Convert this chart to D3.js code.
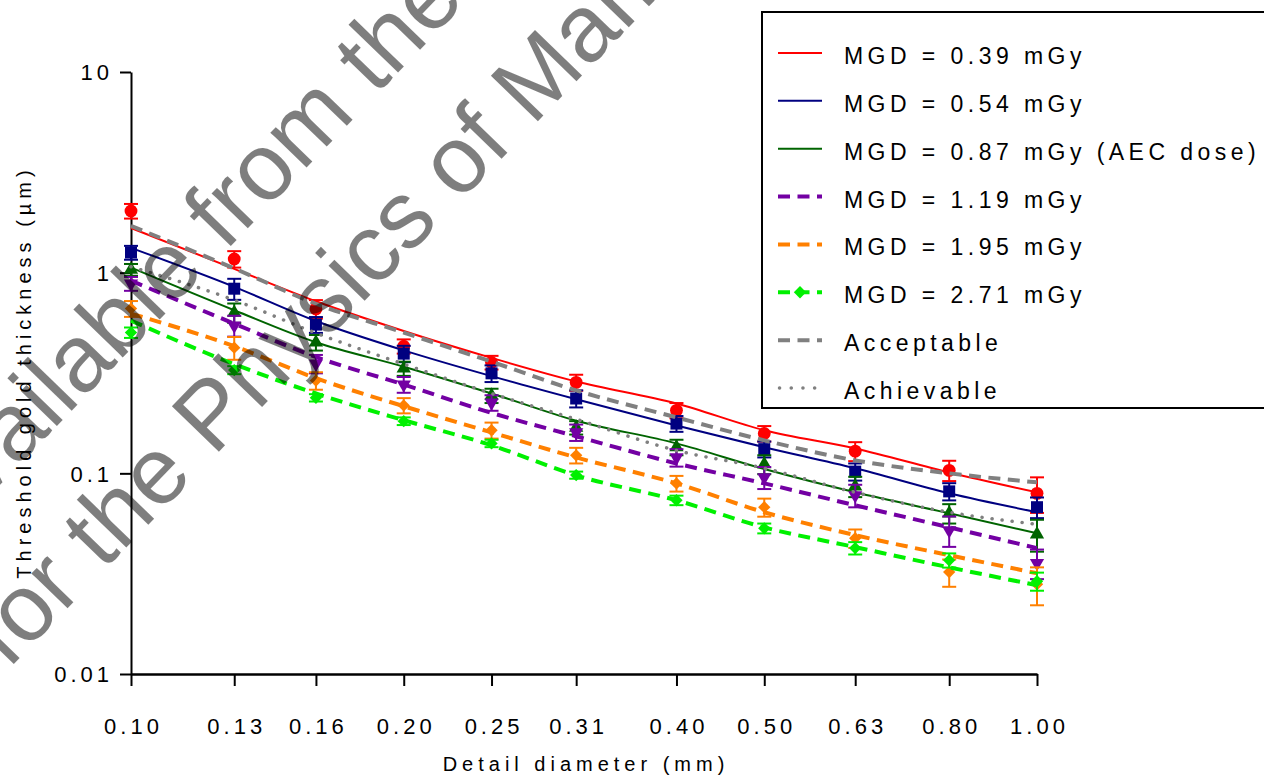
<!DOCTYPE html>
<html><head><meta charset="utf-8">
<script src="https://cdn.jsdelivr.net/npm/d3@7"></script>
<style>
body{margin:0;background:#fff;}
svg{display:block;font-family:"Liberation Sans",Arial,Helvetica,sans-serif;}
</style></head><body>
<svg id="chart" width="1264" height="776"></svg>
<script>
// ---------- DATA ----------
const diameters   = [0.10, 0.13, 0.16, 0.20, 0.25, 0.31, 0.40, 0.50, 0.63, 0.80, 1.00];
const xTickLabels = ["0.10","0.13","0.16","0.20","0.25","0.31","0.40","0.50","0.63","0.80","1.00"];
const yTickValues = [0.01, 0.1, 1, 10];
const yTickLabels = ["0.01","0.1","1","10"];
const xTitle = "Detail diameter (mm)";
const yTitle = "Threshold gold thickness (\u00b5m)";

const seriesNames = ["MGD = 0.39 mGy","MGD = 0.54 mGy","MGD = 0.87 mGy (AEC dose)",
                     "MGD = 1.19 mGy","MGD = 1.95 mGy","MGD = 2.71 mGy"];
const refNames = ["Acceptable","Achievable"];

// measured points (µm)
const pts039 = [2.03, 1.17, 0.66, 0.43, 0.357, 0.284, 0.206, 0.158, 0.129, 0.1035, 0.0795];
const pts054 = [1.26, 0.832, 0.551, 0.395, 0.315, 0.236, 0.177, 0.132, 0.102, 0.0813, 0.0678];
const pts087 = [1.035, 0.632, 0.449, 0.333, 0.244, 0.169, 0.135, 0.111, 0.0861, 0.0632, 0.0497];
const pts119 = [0.882, 0.545, 0.352, 0.277, 0.225, 0.160, 0.120, 0.0955, 0.0777, 0.0520, 0.0357];
const pts195 = [0.662, 0.423, 0.290, 0.218, 0.164, 0.123, 0.0891, 0.0678, 0.0475, 0.0322, 0.028];
const pts271 = [0.503, 0.327, 0.238, 0.182, 0.141, 0.0980, 0.0734, 0.0532, 0.0424, 0.0369, 0.0290];

// error bars (± µm)
const err039 = [0.17, 0.11, 0.07, 0.035, 0.028, 0.026, 0.018, 0.014, 0.014, 0.012, 0.016];
const err054 = [0.10, 0.10, 0.05, 0.037, 0.030, 0.023, 0.016, 0.012, 0.010, 0.008, 0.008];
const err087 = [0.07, 0.07, 0.04, 0.027, 0.020, 0.013, 0.012, 0.012, 0.010, 0.007, 0.009];
const err119 = [0.07, 0.065, 0.037, 0.025, 0.020, 0.015, 0.012, 0.012, 0.010, 0.009, 0.006];
const err195 = [0.06, 0.055, 0.029, 0.019, 0.015, 0.011, 0.008, 0.007, 0.005, 0.005, 0.006];
const err271 = [0.03, 0.015, 0.010, 0.008, 0.006, 0.004, 0.004, 0.003, 0.003, 0.003, 0.003];

// fitted curves (µm at each diameter)
const fit039 = [1.67, 1.045, 0.72, 0.512, 0.376, 0.287, 0.223, 0.164, 0.133, 0.101, 0.0804];
const fit054 = [1.33, 0.85, 0.574, 0.41, 0.305, 0.234, 0.173, 0.135, 0.106, 0.0795, 0.064];
const fit087 = [1.06, 0.65, 0.45, 0.34, 0.25, 0.183, 0.141, 0.105, 0.0804, 0.0632, 0.0503];
const fit119 = [0.912, 0.557, 0.38, 0.277, 0.20, 0.153, 0.112, 0.0891, 0.0693, 0.0538, 0.0424];
const fit195 = [0.625, 0.43, 0.298, 0.216, 0.16, 0.12, 0.0891, 0.064, 0.0492, 0.0391, 0.0318];
const fit271 = [0.577, 0.35, 0.25, 0.184, 0.138, 0.0977, 0.0734, 0.0538, 0.0429, 0.034, 0.0277];

// reference levels
const acceptable = [1.71, 1.05, 0.70, 0.503, 0.36, 0.259, 0.190, 0.146, 0.116, 0.100, 0.0902];
const achievable = [1.07, 0.73, 0.50, 0.35, 0.25, 0.186, 0.130, 0.106, 0.0804, 0.064, 0.0557];

const watermarkLines = ["Available from the National Coordinating Centre",
                        "for the Physics of Mammography"];

// ---------- STYLE ----------
const colors = ["#ff0000","#000080","#006400","#7300a3","#ff8000","#00f000"];
const dashed = [false,false,false,true,true,true];
const symbols = ["circle","square","triangle","triangleDown","diamond","diamond"];
const series = [
  {pts:pts039, err:err039, fit:fit039},
  {pts:pts054, err:err054, fit:fit054},
  {pts:pts087, err:err087, fit:fit087},
  {pts:pts119, err:err119, fit:fit119},
  {pts:pts195, err:err195, fit:fit195},
  {pts:pts271, err:err271, fit:fit271}
].map((s,i)=>Object.assign(s,{name:seriesNames[i],color:colors[i],dashed:dashed[i],sym:symbols[i]}));

const svg = d3.select("#chart");
const x = d3.scaleLog().domain([0.1, 1]).range([131, 1037]);
const y = d3.scaleLog().domain([0.01, 10]).range([674, 72]);

function symPath(kind){
  if(kind==="circle") return d3.symbol(d3.symbolCircle, 130)();
  if(kind==="square") return d3.symbol(d3.symbolSquare, 144)();
  if(kind==="triangle"||kind==="triangleDown") return d3.symbol(d3.symbolTriangle, 88)();
  return d3.symbol(d3.symbolSquare, 76)();
}
function symTransform(kind){
  if(kind==="triangleDown") return " rotate(180)";
  if(kind==="diamond") return " rotate(45)";
  return "";
}

// ---------- AXES ----------
const yAxis = d3.axisLeft(y).tickValues(yTickValues)
  .tickFormat((d,i)=>yTickLabels[i]).tickSize(11).tickSizeOuter(0).tickPadding(0);
const gy = svg.append("g").attr("transform","translate(131,0)").call(yAxis);
gy.select(".domain").attr("stroke","#000").attr("stroke-width",2);
gy.selectAll(".tick line").attr("stroke","#000").attr("stroke-width",2);
gy.selectAll(".tick text").attr("x",-18).attr("dy","0.36em")
  .style("font-size","22px").style("letter-spacing","4px").attr("fill","#000")
  .style("font-family","'Liberation Sans',Arial,sans-serif");

const xAxis = d3.axisBottom(x).tickValues(diameters)
  .tickFormat((d,i)=>xTickLabels[i]).tickSize(12).tickSizeOuter(0);
const gx = svg.append("g").attr("transform","translate(0,674)").call(xAxis);
gx.select(".domain").attr("stroke","#000").attr("stroke-width",2.5);
gx.selectAll(".tick line").attr("stroke","#000").attr("stroke-width",2);
gx.selectAll(".tick text").attr("y",44).attr("x",2).attr("dy","0.71em")
  .style("font-size","22px").style("letter-spacing","4px").attr("fill","#000")
  .style("font-family","'Liberation Sans',Arial,sans-serif");

svg.append("text").attr("x",586).attr("y",771).attr("text-anchor","middle")
  .style("font-size","20px").style("letter-spacing","5px").text(xTitle);
svg.append("text").attr("transform","translate(31,372) rotate(-90)").attr("text-anchor","middle")
  .style("font-size","20px").style("letter-spacing","5px").text(yTitle);

// ---------- SERIES ----------
const line = d3.line().x((d,i)=>x(diameters[i])).y(d=>y(d)).curve(d3.curveMonotoneX);
const plot = svg.append("g");
series.forEach(s=>{
  const g = plot.append("g");
  g.append("path").attr("d",line(s.fit)).attr("fill","none").attr("stroke",s.color)
    .attr("stroke-width",s.dashed?4:2).attr("stroke-dasharray",s.dashed?"12,7.5":null);
  const eb = g.selectAll(".eb").data(s.pts).join("g")
    .attr("transform",(d,i)=>`translate(${x(diameters[i])},0)`);
  const lo = (d,i)=>y(Math.max(d-s.err[i],0.0101));
  const hi = (d,i)=>y(d+s.err[i]);
  eb.append("line").attr("x1",0).attr("x2",0).attr("y1",hi).attr("y2",lo)
    .attr("stroke",s.color).attr("stroke-width",2);
  eb.append("line").attr("x1",-7).attr("x2",7).attr("y1",hi).attr("y2",hi)
    .attr("stroke",s.color).attr("stroke-width",2);
  eb.append("line").attr("x1",-7).attr("x2",7).attr("y1",lo).attr("y2",lo)
    .attr("stroke",s.color).attr("stroke-width",2);
  g.selectAll(".mk").data(s.pts).join("path")
    .attr("d",symPath(s.sym)).attr("fill",s.color)
    .attr("transform",(d,i)=>`translate(${x(diameters[i])},${y(d)})`+symTransform(s.sym));
});
plot.append("path").attr("d",line(acceptable)).attr("fill","none").attr("stroke","#808080")
  .attr("stroke-width",4).attr("stroke-dasharray","12,7.5");
plot.append("path").attr("d",line(achievable)).attr("fill","none").attr("stroke","#808080")
  .attr("stroke-width",3.5).attr("stroke-linecap","round").attr("stroke-dasharray","0.1,10");

// ---------- LEGEND ----------
const lg = svg.append("g");
lg.append("rect").attr("x",762).attr("y",12).attr("width",560).attr("height",396)
  .attr("fill","#fff").attr("stroke","#000").attr("stroke-width",2);
const legendItems = series.map(s=>({name:s.name,color:s.color,dashed:s.dashed,sym:s.sym,w:s.dashed?4:2}))
  .concat([{name:refNames[0],color:"#808080",dashed:true,w:4},
           {name:refNames[1],color:"#808080",dotted:true,w:3.5}]);
const rowY = d3.scaleLinear().domain([0,7]).range([53,388]);
legendItems.forEach((it,i)=>{
  const yy = rowY(i);
  const l = lg.append("line").attr("x1",778).attr("x2",822).attr("y1",yy).attr("y2",yy)
    .attr("stroke",it.color).attr("stroke-width",it.w);
  if(it.dashed) l.attr("stroke-dasharray","12,7.5");
  if(it.dotted) l.attr("stroke-linecap","round").attr("stroke-dasharray","0.1,11.6").attr("x1",779.5);
  if(i===5) lg.append("path").attr("d",symPath("diamond")).attr("fill",it.color)
      .attr("transform",`translate(800,${yy}) rotate(45)`);
  lg.append("text").attr("x",844).attr("y",yy+11).style("font-size","23px")
    .style("letter-spacing","4.45px").attr("fill","#000").text(it.name);
});

// ---------- WATERMARK ----------
const wm = svg.append("g").attr("fill","#000").attr("opacity",0.5)
  .style("font-size","95px").style("font-family","'Liberation Sans',Arial,sans-serif");
wm.append("text").attr("transform","translate(-60,547) rotate(-46)").text(watermarkLines[0]);
wm.append("text").attr("transform","translate(8,670) rotate(-46)").text(watermarkLines[1]);
</script>
</body></html>
